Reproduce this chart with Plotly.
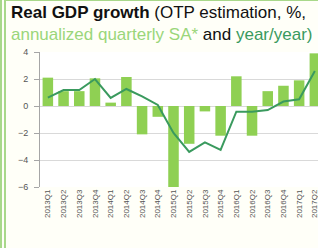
import plotly.graph_objects as go

quarters = ["2013Q1", "2013Q2", "2013Q3", "2013Q4", "2014Q1", "2014Q2", "2014Q3", "2014Q4",
            "2015Q1", "2015Q2", "2015Q3", "2015Q4", "2016Q1", "2016Q2", "2016Q3", "2016Q4",
            "2017Q1", "2017Q2"]
qoq_annualized = [2.1, 1.1, 1.1, 2.05, 0.25, 2.15, -2.1, -0.8, -6.0, -2.8, -0.4, -2.2,
                  2.2, -2.2, 1.1, 1.5, 1.9, 3.9]
yoy = [0.62, 1.18, 1.18, 2.0, 0.6, 1.26, 0.72, 0.08, -2.0, -3.4, -2.7, -3.25,
       -0.42, -0.42, -0.3, 0.33, 0.5, 2.6]
y_ticks = [4, 2, 0, -2, -4, -6]

W, H = 318, 248
L, R, T, B = 40, 0, 52, 61
pw, ph = W - L - R, H - T - B

def px(x):
    return (x - L) / pw

def py(y):
    return (H - B - y) / ph

fig = go.Figure()
fig.add_trace(go.Bar(x=quarters, y=qoq_annualized, marker_color="#8fd053",
                     marker_line_width=0, name="annualized quarterly SA"))
fig.add_trace(go.Scatter(x=quarters, y=yoy, mode="lines",
                         line=dict(color="#3a9a5e", width=2), name="year/year"))

fig.update_layout(
    width=W, height=H,
    margin=dict(l=L, r=R, t=T, b=B, autoexpand=False),
    paper_bgcolor="#fffff8", plot_bgcolor="#ffffff",
    showlegend=False, bargap=0.33,
    font=dict(family="Liberation Sans, Arial, sans-serif"),
    xaxis=dict(range=[-0.5, 17.2], tickangle=-90, tickfont=dict(size=8, color="#555555"),
               showgrid=False, showline=False, ticks="", fixedrange=True, automargin=False),
    yaxis=dict(range=[-6, 4], tickvals=y_ticks, tickfont=dict(size=9, color="#555555"),
               showgrid=True, gridcolor="#d9d9d9", gridwidth=1,
               zeroline=True, zerolinecolor="#d9d9d9", zerolinewidth=1,
               showline=True, linecolor="#a6a6a6", linewidth=1,
               ticks="outside", ticklen=5, tickcolor="#a6a6a6", ticklabelstandoff=4,
               fixedrange=True, automargin=False),
)

fig.add_annotation(xref="paper", yref="paper", x=px(9), y=py(13), xanchor="left", yanchor="middle",
                   showarrow=False,
                   text="<b>Real GDP growth</b> (OTP estimation, %,",
                   font=dict(size=17, color="#111111"))
fig.add_annotation(xref="paper", yref="paper", x=px(9), y=py(35), xanchor="left", yanchor="middle",
                   showarrow=False,
                   text="<span style='color:#9ad67a'>annualized quarterly SA*</span> and "
                        "<span style='color:#3a9a5e'>year/year)</span>",
                   font=dict(size=17, color="#111111"))

for xp in [1, 5]:
    fig.add_shape(type="line", xref="paper", yref="paper", x0=px(xp), x1=px(xp),
                  y0=py(0), y1=py(H), line=dict(color="#a8d88a", width=2))
fig.add_shape(type="line", xref="paper", yref="paper", x0=px(5), x1=px(W),
              y0=py(0.5), y1=py(0.5), line=dict(color="#a8d88a", width=1))

fig.write_html("out.html", config={"displayModeBar": False},
               post_script="document.body.style.margin='0';document.body.style.overflow='hidden';")
